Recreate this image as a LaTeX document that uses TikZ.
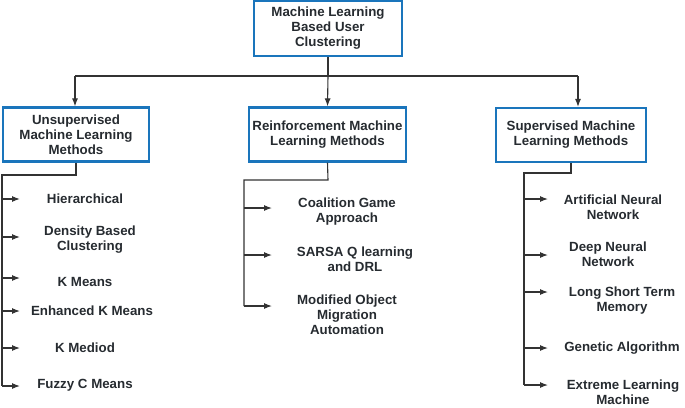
\documentclass[tikz,border=0pt]{standalone}
\usepackage{fontspec}
\setmainfont{Liberation Sans}
\usetikzlibrary{arrows.meta}
\definecolor{boxblue}{HTML}{1A75BC}
\definecolor{txt}{HTML}{262B30}
\definecolor{ln}{HTML}{333333}
\tikzset{
  cat/.style={draw=boxblue, line width=2.2pt, fill=white, align=center, text=txt,
              inner sep=0pt, font=\fontsize{13.3}{15}\selectfont\bfseries},
  item/.style={align=center, text=txt, inner sep=0pt,
              font=\fontsize{13.3}{15}\selectfont\bfseries},
  conn/.style={draw=ln, line width=1.1pt},
  arr/.style={conn, -{Latex[length=8pt,width=6pt]}},
}
\begin{document}
\begin{tikzpicture}[x=1pt,y=-1pt]
\useasboundingbox (0,0) rectangle (685,407);
% category boxes
\node[cat, minimum width=148pt, minimum height=55pt] (top) at (328,28.5) {Machine Learning\\Based User\\Clustering};
\node[cat, minimum width=146pt, minimum height=54pt] (uns) at (76,134.5) {Unsupervised\\Machine Learning\\Methods};
\node[cat, minimum width=157pt, minimum height=54pt] (rei) at (327.5,134.5) {Reinforcement Machine\\Learning Methods};
\node[cat, minimum width=150pt, minimum height=54pt] (sup) at (571,135) {Supervised Machine\\Learning Methods};
% top connectors
\coordinate (hl) at (75,76);
\coordinate (hr) at (578,76);
\draw[conn] (top.south) -- (top.south |- hl);
\draw[conn] (hl) -- (hr);
\draw[arr] (hl) -- (hl |- uns.north);
\draw[arr] (top.south |- hl) -- (rei.north);
\draw[arr] (hr) -- (hr |- sup.north);
% unsupervised items
\node[item] (u1) at (85,199) {Hierarchical};
\node[item] (u2) at (90,240) {Density Based\\Clustering};
\node[item] (u3) at (85,282) {K Means};
\node[item] (u4) at (92,311) {Enhanced K Means};
\node[item] (u5) at (85,348) {K Mediod};
\node[item] (u6) at (85,385) {Fuzzy C Means};
\coordinate (ub) at (76,175);
\coordinate (ut) at (2,175);
\coordinate (uend) at (2,386);
\draw[conn] (uns.south) -- (ub) -- (ut) -- (uend);
\foreach \i/\y in {1/199,2/237,3/278,4/311,5/348,6/386}{
  \coordinate (ua\i) at (20,\y);
  \draw[arr] (2,\y) -- (ua\i);
}
% reinforcement items
\node[item] (r1) at (347,212) {Coalition Game\\Approach};
\node[item] (r2) at (355,259.5) {SARSA Q learning\\and DRL};
\node[item] (r3) at (347,315) {Modified Object\\Migration\\Automation};
\coordinate (rb) at (328,180);
\coordinate (rt) at (244,180);
\coordinate (rend) at (244,306);
\draw[conn] (rei.south) -- (rb) -- (rt) -- (rend);
\foreach \i/\y in {1/208,2/255,3/306}{
  \coordinate (ra\i) at (272,\y);
  \draw[arr] (244,\y) -- (ra\i);
}
% supervised items
\node[item] (s1) at (613,207.5) {Artificial Neural\\Network};
\node[item] (s2) at (608,254) {Deep Neural\\Network};
\node[item] (s3) at (622,301) {Long Short Term\\Memory};
\node[item] (s4) at (622,348) {Genetic Algorithm};
\node[item] (s5) at (623,392) {Extreme Learning\\Machine};
\coordinate (sb) at (571,173);
\coordinate (st) at (524,173);
\coordinate (send) at (524,385);
\draw[conn] (sup.south) -- (sb) -- (st) -- (send);
\foreach \i/\y in {1/199,2/255,3/292,4/348,5/385}{
  \coordinate (sa\i) at (548,\y);
  \draw[arr] (524,\y) -- (sa\i);
}
\end{tikzpicture}
\end{document}
